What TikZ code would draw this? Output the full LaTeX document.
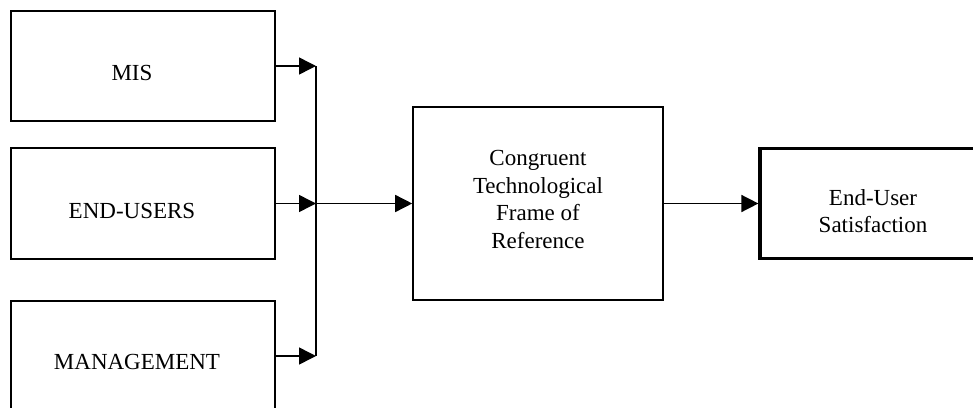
\documentclass[tikz,border=0pt]{standalone}
\usepackage{fontspec}
\setmainfont{Liberation Serif}
\usetikzlibrary{arrows.meta}
\begin{document}
\begin{tikzpicture}[x=0.5pt,y=-0.5pt,
  box/.style={draw,line width=0.8pt,minimum width=132pt,minimum height=55pt,inner sep=0pt},
  thickbox/.style={box,line width=1.6pt},
  txt/.style={font=\fontsize{11.5}{13.7}\selectfont,align=center,inner sep=0pt},
  ln/.style={line width=0.75pt},
  arr/.style={line width=0.75pt,-{Triangle[length=8.5pt,width=8.5pt]}}]
\useasboundingbox (0,0) rectangle (973,407);
\clip (0,0) rectangle (973,407);
% boxes
\node[box] (mis) at (143,66) {};
\node[box,minimum height=55.5pt] (eu) at (143,203.5) {};
\node[box] (mgmt) at (143,356) {};
\node[box,minimum width=125pt,minimum height=96.5pt] (cf) at (538,203.5) {};
\node[thickbox,minimum width=113pt,minimum height=55pt] (sat) at (873,203.5) {};
% texts
\node[txt] (misT) at (132,73) {MIS};
\node[txt] (euT) at (132,210.5) {END-USERS};
\node[txt] (mgmtT) at (137,362) {MANAGEMENT};
\node[txt] (cfT) at (538,199.4) {Congruent\\Technological\\Frame of\\Reference};
\node[txt] (satT) at (873,211) {End-User\\Satisfaction};
% bus
\coordinate (busTop) at (316,66);
\coordinate (busMid) at (316,203.5);
\coordinate (busBot) at (316,356);
\draw[ln] (busTop) -- (busBot);
\draw[arr] (mis.east) -- (busTop);
\draw[arr] (eu.east) -- (busMid);
\draw[arr] (mgmt.east) -- (busBot);
\draw[arr] (busMid) -- (cf.west);
\draw[arr] (cf.east) -- (sat.west);
\end{tikzpicture}
\end{document}
